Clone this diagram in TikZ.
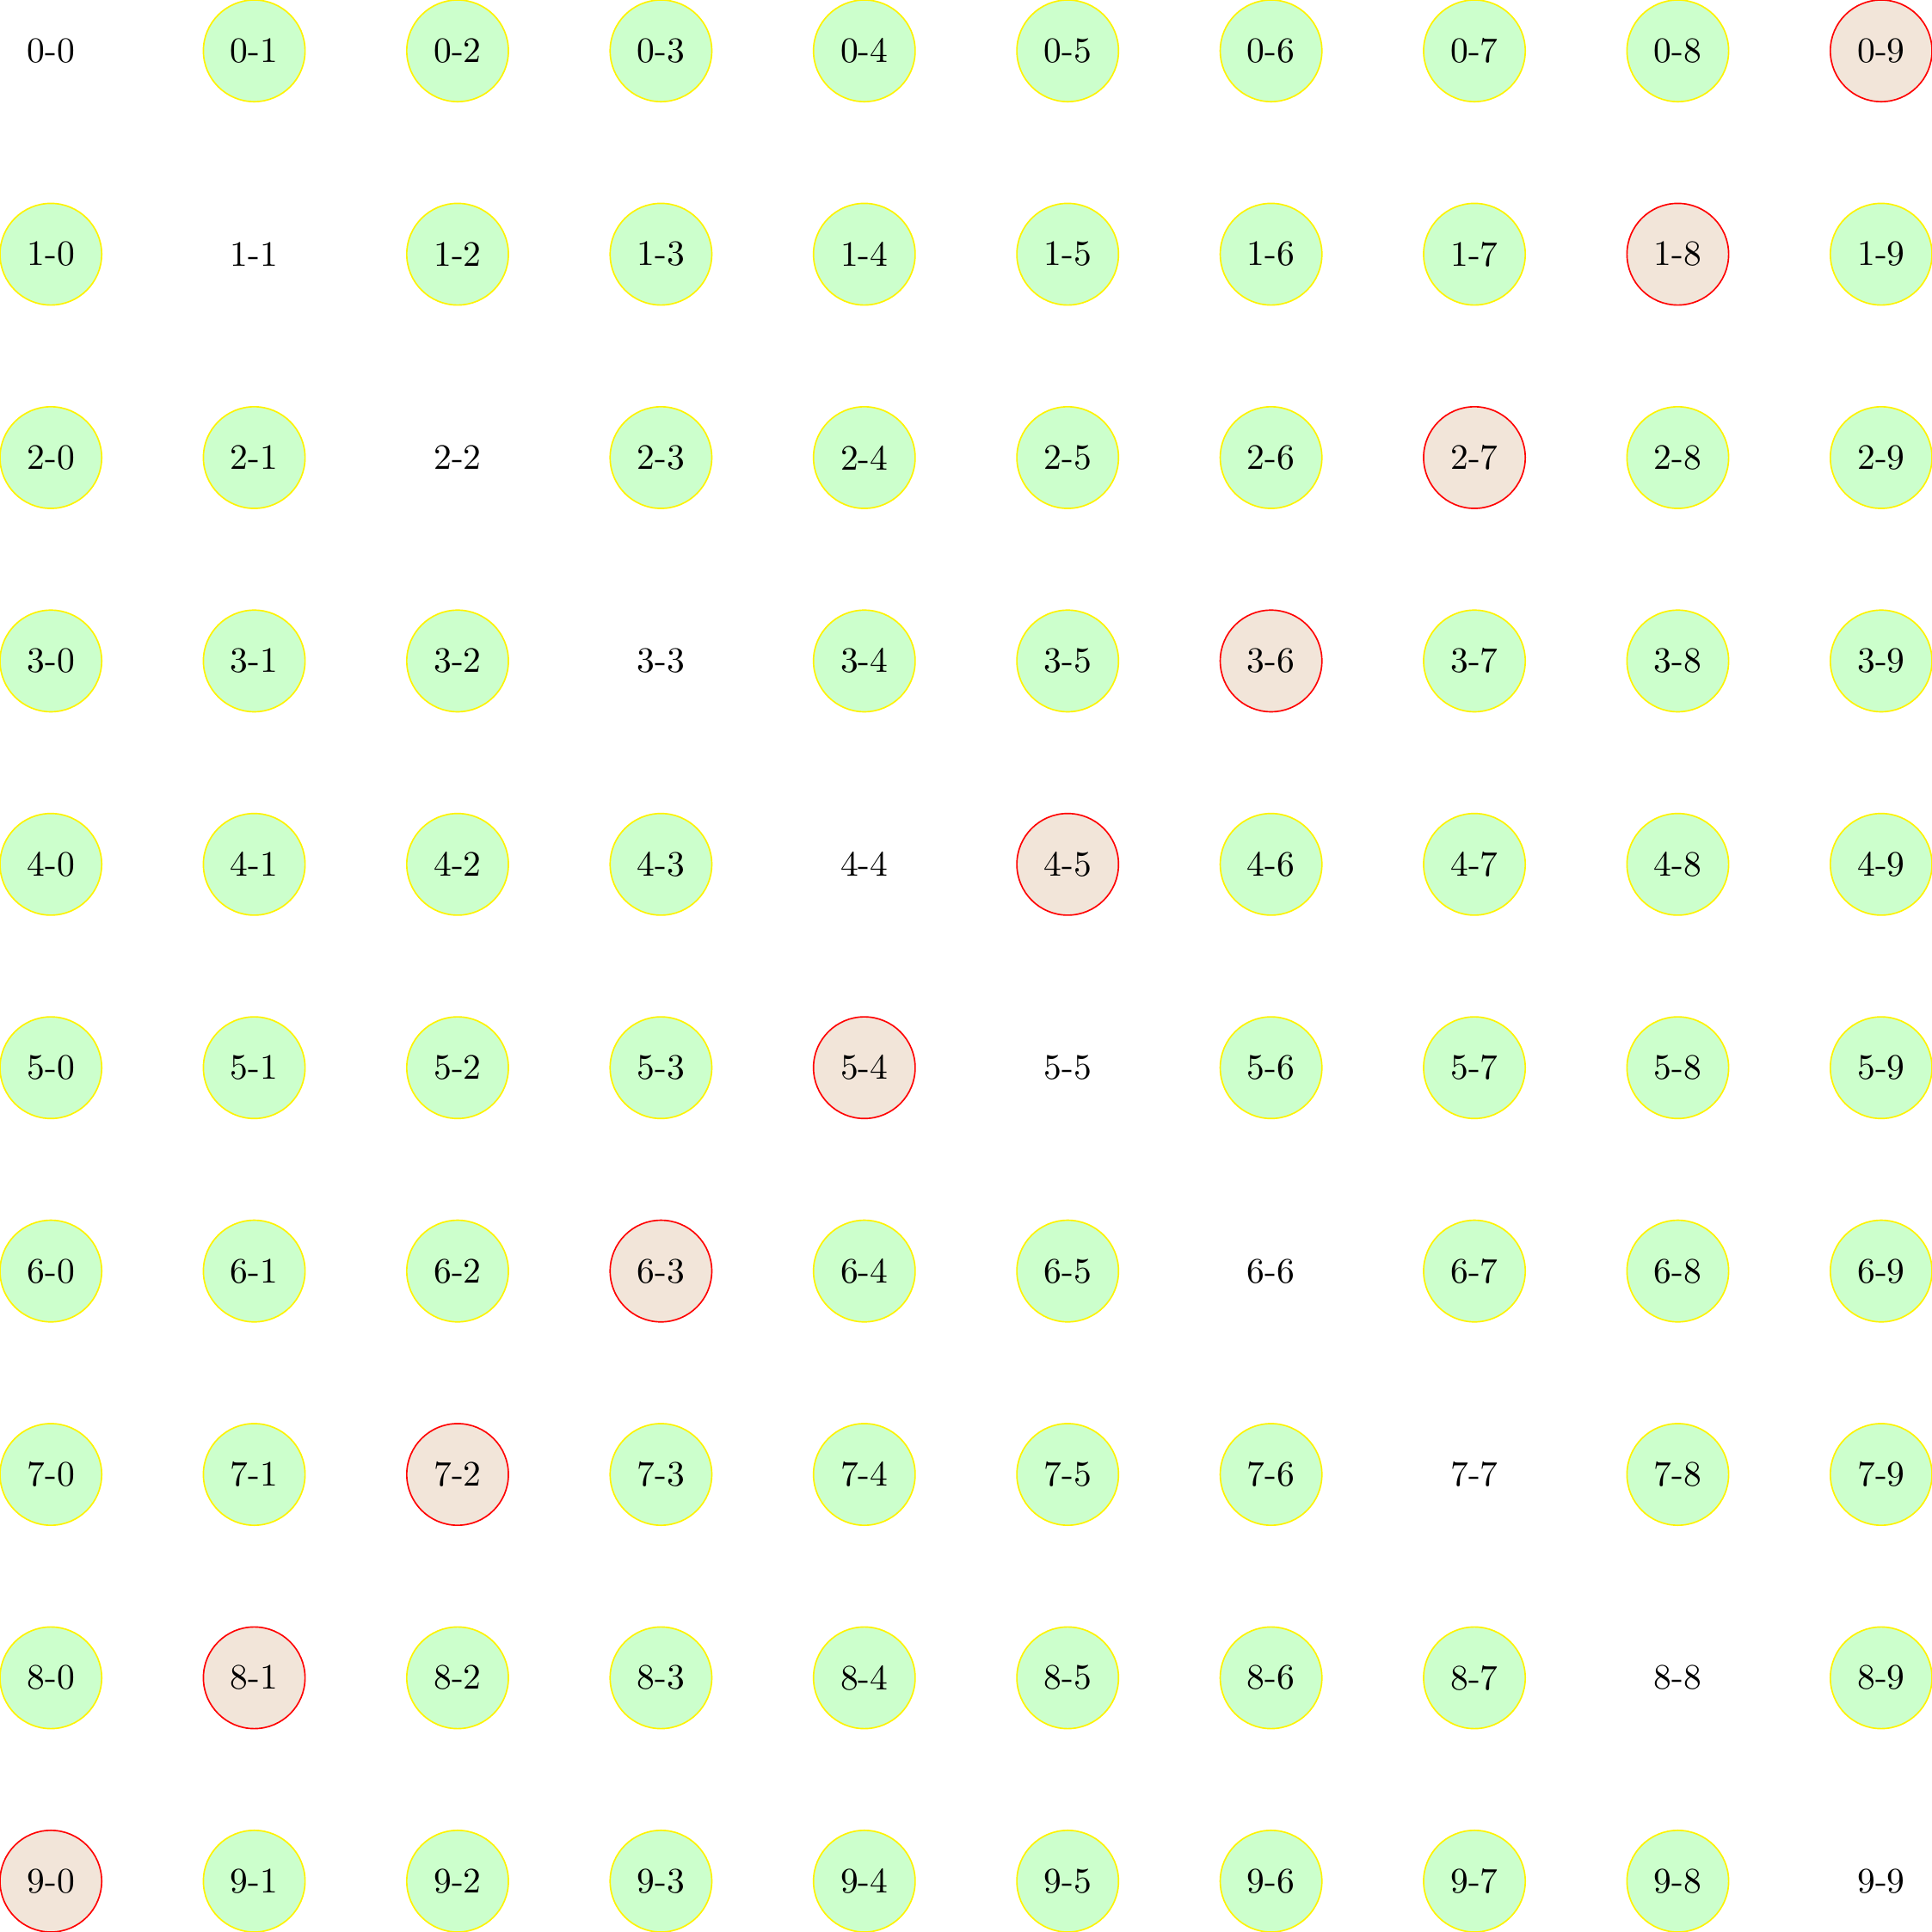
\documentclass[tikz,border=0pt]{standalone}
\usetikzlibrary{positioning}
\tikzset{
  every picture/.style={line width=0.4pt},
  cellnode/.style={circle, minimum size=1cm, inner sep=0pt},
  okcell/.style={cellnode, draw=yellow, fill=green!20},
  antidiag/.style={cellnode, draw=red, fill=brown!20},
  diagcell/.style={cellnode},
}
\begin{document}
\begin{tikzpicture}
  \useasboundingbox (-0.5,0.5) rectangle (18.5,-18.5);
  % one node per cell, style chosen by its place in the grid
  \foreach \r in {0,...,9} {
    \foreach \c in {0,...,9} {
      \pgfmathtruncatemacro{\s}{\r+\c}
      \ifnum\r=\c \def\kind{diagcell}\else\ifnum\s=9 \def\kind{antidiag}\else\def\kind{okcell}\fi\fi
      \node[\kind] (n-\r-\c) at (2*\c,-2*\r) {\r-\c};
    }
  }
\end{tikzpicture}
\end{document}
